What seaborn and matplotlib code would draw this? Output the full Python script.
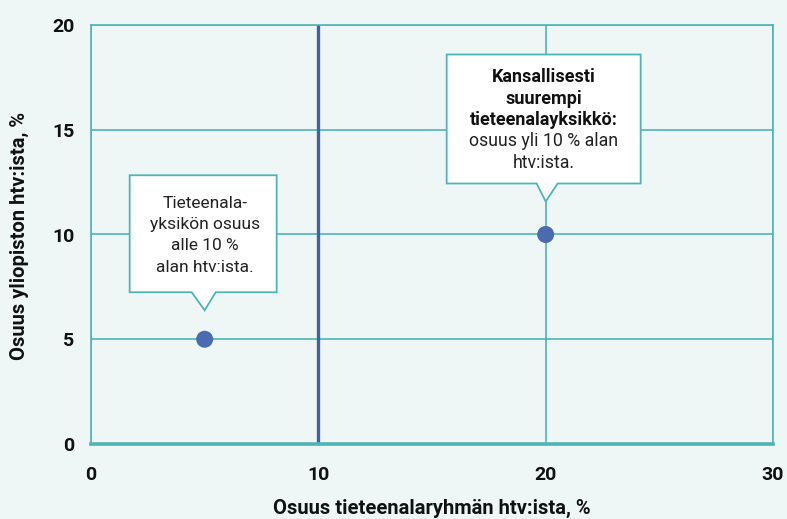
import matplotlib
matplotlib.use("Agg")
import matplotlib.pyplot as plt
from matplotlib.patches import Polygon
from matplotlib.transforms import IdentityTransform
import seaborn as sns
import pandas as pd

# data
x_share = [5, 20]          # Osuus tieteenalaryhmän htv:ista, %
y_share = [5, 10]          # Osuus yliopiston htv:ista, %
threshold = 10
x_ticks = [0, 10, 20, 30]
y_ticks = [0, 5, 10, 15, 20]
callout_left = ["Tieteenala-", "yksikön osuus", "alle 10 %", "alan htv:ista."]
callout_right_bold = ["Kansallisesti", "suurempi", "tieteenalayksikkö:"]
callout_right_reg = ["osuus yli 10 % alan", "htv:ista."]

BG = "#EEF7F6"
TEAL = "#4DB5B4"
BLUE = "#3D63A6"
DOT = "#4A6BAF"
FONT = ["Roboto", "DejaVu Sans"]

sns.set_theme(style="white")
plt.rcParams["font.family"] = FONT

W, H = 787, 519
fig = plt.figure(figsize=(W/100, H/100), dpi=100, facecolor=BG)
ax = fig.add_axes([91/W, 1-444/H, 682/W, 419/H])
ax.set_facecolor(BG)

df = pd.DataFrame({"x": x_share, "y": y_share})
ax.set_xlim(0, 30)
ax.set_ylim(0, 20)

for yv in y_ticks[1:]:
    ax.axhline(yv, color=TEAL, lw=1.2, zorder=1)
for xv in x_ticks:
    if xv != threshold:
        ax.axvline(xv, color=TEAL, lw=1.2, zorder=1)
ax.axvline(threshold, color=BLUE, lw=2.4, zorder=2)

for s in ["left", "right", "top"]:
    ax.spines[s].set_color(TEAL)
    ax.spines[s].set_linewidth(1.2)
ax.spines["bottom"].set_color(TEAL)
ax.spines["bottom"].set_linewidth(2.6)

sns.scatterplot(data=df, x="x", y="y", ax=ax, s=150, color=DOT,
                edgecolor="none", zorder=5, clip_on=False)

ax.set_xticks(x_ticks)
ax.set_yticks(y_ticks)
ax.set_xticklabels([str(t) for t in x_ticks], fontweight="bold", fontsize=14, color="#111111")
ax.set_yticklabels([str(t) for t in y_ticks], fontweight="bold", fontsize=14, color="#111111")
ax.tick_params(axis="x", length=0, pad=16)
ax.tick_params(axis="y", length=0, pad=12)
ax.set_xlabel("")
ax.set_ylabel("")

fig.text(432/W, 1-508/H, "Osuus tieteenalaryhmän htv:ista, %", ha="center",
         va="center", fontweight="bold", fontsize=14.5, color="#111111")
fig.text(19/W, 1-236/H, "Osuus yliopiston htv:ista, %", ha="center",
         va="center", rotation=90, fontweight="bold", fontsize=14.5, color="#111111")

fig.canvas.draw()
ID = IdentityTransform()

def callout(px, py, left, right, top, bottom, base_l, base_r, tip):
    # offsets in pixels relative to the data point (display coords, y up)
    X, Y = ax.transData.transform((px, py))
    pts = [(X+left, Y+top), (X+right, Y+top), (X+right, Y+bottom),
           (X+base_r, Y+bottom), (X, Y+tip), (X+base_l, Y+bottom),
           (X+left, Y+bottom)]
    poly = Polygon(pts, closed=True, transform=None, facecolor="white",
                   edgecolor=TEAL, lw=1.3, zorder=6)
    fig.add_artist(poly)
    return X, Y

LS = 21.3
X1, Y1 = callout(x_share[0], y_share[0], -75, 72, 164, 47, -13, 11, 29)
for i, line in enumerate(callout_left):
    fig.text(X1, Y1 + 136 - i*LS, line, transform=ID, ha="center", va="center",
             fontsize=12.5, color="#222222", zorder=7)

X2, Y2 = callout(x_share[1], y_share[1], -99, 95, 180, 51, -9, 12, 33)
for i, line in enumerate(callout_right_bold + callout_right_reg):
    bold = i < len(callout_right_bold)
    fig.text(X2 - 2, Y2 + 157 - i*LS, line, transform=ID, ha="center", va="center",
             fontsize=13 if bold else 12.8, fontweight="bold" if bold else "normal",
             color="#111111" if bold else "#222222", zorder=7)

fig.savefig("out.png", dpi=100, facecolor=BG)
